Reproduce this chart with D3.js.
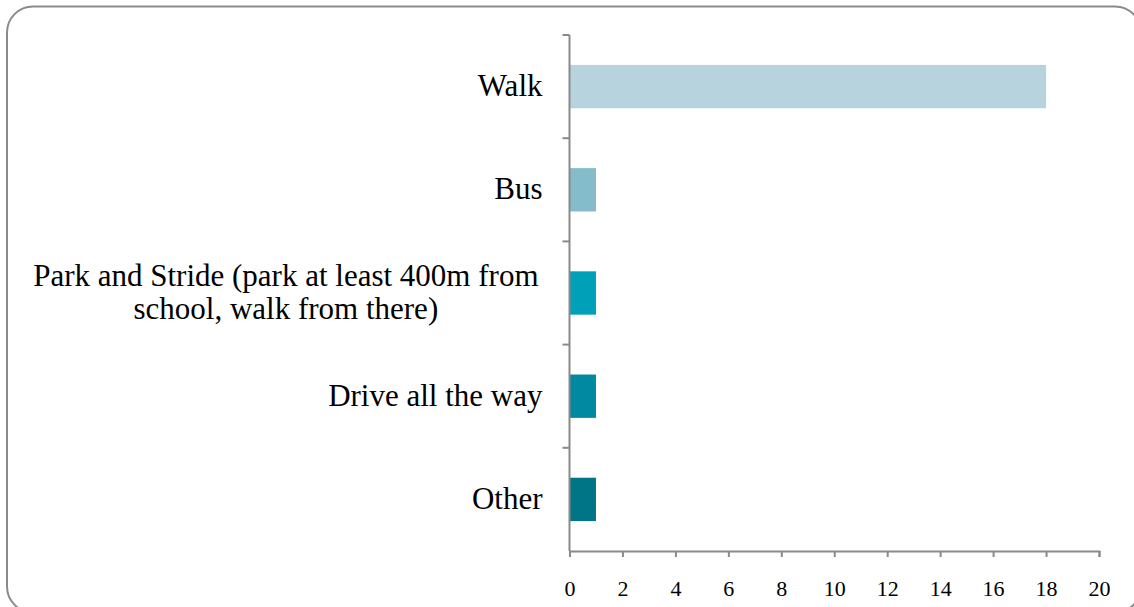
<!DOCTYPE html>
<html>
<head>
<meta charset="utf-8">
<script src="https://cdn.jsdelivr.net/npm/d3@7"></script>
<style>
  body { margin: 0; background: #fff; }
  text { font-family: "Liberation Serif", "DejaVu Serif", serif; fill: #000; }
</style>
</head>
<body>
<div id="chart"></div>
<script>
// chart data
var categories = ["Walk", "Bus", "Park and Stride (park at least 400m from|school, walk from there)", "Drive all the way", "Other"];
var values = [18, 1, 1, 1, 1];
var barColors = ["#b7d4de", "#85bcca", "#00a0b8", "#0089a0", "#007586"];
var xTicks = [0, 2, 4, 6, 8, 10, 12, 14, 16, 18, 20];

var svgWidth = 1134;
var svgHeight = 607;

var margin = {
    top: 35,
    right: 35,
    bottom: 56,
    left: 569.5
};

var chartWidth = svgWidth - margin.left - margin.right;
var chartHeight = svgHeight - margin.top - margin.bottom;

var svg = d3.select("#chart")
    .append("svg")
    .attr("width", svgWidth)
    .attr("height", svgHeight);

// rounded frame
svg.append("rect")
    .attr("x", 7)
    .attr("y", 6.5)
    .attr("width", 1134)
    .attr("height", 606)
    .attr("rx", 26)
    .attr("fill", "none")
    .attr("stroke", "#8a8a8a")
    .attr("stroke-width", 2);

var chartGroup = svg.append("g")
    .attr("transform", `translate(${margin.left}, ${margin.top})`);

var xScale = d3.scaleLinear()
    .domain([0, 20])
    .range([0, chartWidth]);

var yScale = d3.scaleBand()
    .domain(categories)
    .range([0, chartHeight])
    .paddingInner(0.58)
    .paddingOuter(0.29);

// bars
chartGroup.selectAll(".bar")
    .data(values)
    .enter()
    .append("rect")
    .attr("class", "bar")
    .attr("x", 0)
    .attr("y", (d, i) => yScale(categories[i]))
    .attr("width", d => xScale(d))
    .attr("height", yScale.bandwidth())
    .attr("fill", (d, i) => barColors[i]);

// x axis
var bottomAxis = d3.axisBottom(xScale)
    .tickValues(xTicks)
    .tickSize(6)
    .tickPadding(23)
    .tickFormat(d3.format("d"));

var xAxis = chartGroup.append("g")
    .attr("transform", `translate(0, ${chartHeight})`)
    .call(bottomAxis);

xAxis.select(".domain").attr("stroke", "#8a8a8a").attr("stroke-width", 2);
xAxis.selectAll(".tick line").attr("stroke", "#8a8a8a").attr("stroke-width", 2);
xAxis.selectAll(".tick text")
    .style("font-family", "'Liberation Serif', serif")
    .style("font-size", "22px")
    .attr("fill", "#000");

// y axis: line with ticks between categories
var bandStep = chartHeight / categories.length;
var yAxisG = chartGroup.append("g");
yAxisG.append("line")
    .attr("x1", 0).attr("x2", 0)
    .attr("y1", 0).attr("y2", chartHeight)
    .attr("stroke", "#8a8a8a").attr("stroke-width", 2);
yAxisG.selectAll(".ytick")
    .data(d3.range(categories.length))
    .enter()
    .append("line")
    .attr("x1", -7).attr("x2", 0)
    .attr("y1", d => d * bandStep)
    .attr("y2", d => d * bandStep)
    .attr("stroke", "#8a8a8a").attr("stroke-width", 2);

// category labels
var labelX = -27;
var lineHeight = 33;
var fontSize = "31px";
categories.forEach(function (c) {
    var lines = c.split("|");
    var cy = yScale(c) + yScale.bandwidth() / 2;
    if (lines.length === 1) {
        chartGroup.append("text")
            .attr("text-anchor", "end")
            .attr("x", labelX)
            .attr("y", cy)
            .attr("dy", "0.3em")
            .style("font-size", fontSize)
            .text(c);
        return;
    }
    // wrapped label: lines centred on the first line plus its trailing space
    var first = chartGroup.append("text")
        .attr("text-anchor", "end")
        .attr("x", labelX)
        .attr("y", cy - lineHeight / 2)
        .attr("dy", "0.3em")
        .style("font-size", fontSize)
        .text(lines[0]);
    var w1 = first.node().getComputedTextLength() + 8;
    first.attr("text-anchor", "middle").attr("x", labelX - w1 / 2);
    chartGroup.append("text")
        .attr("text-anchor", "middle")
        .attr("x", labelX - w1 / 2)
        .attr("y", cy + lineHeight / 2)
        .attr("dy", "0.3em")
        .style("font-size", fontSize)
        .text(lines[1]);
});
</script>
</body>
</html>
